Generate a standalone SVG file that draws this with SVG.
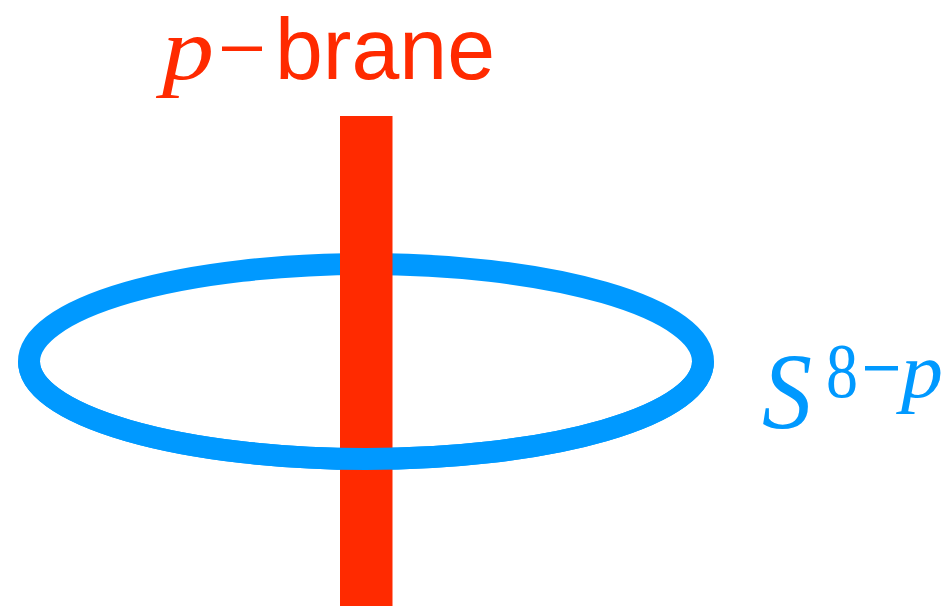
<svg xmlns="http://www.w3.org/2000/svg" width="952" height="606" viewBox="0 0 952 606">
<style>
.ring{fill:none;stroke:#0099ff;stroke-width:22}
.red{fill:#ff2a00}
.blue{fill:#0099ff}
.it{font-family:"Liberation Serif",serif;font-style:italic}
.sans{font-family:"Liberation Sans",Arial,sans-serif}
</style>
<rect width="952" height="606" fill="#ffffff"/>
<g id="ring-back">
<ellipse class="ring" cx="366" cy="361.5" rx="337" ry="97.5"/>
</g>
<g id="brane">
<rect class="red" x="340" y="116" width="52.5" height="490"/>
</g>
<g id="ring-front">
<path class="ring" d="M 29 361.5 A 337 97.5 0 0 0 703 361.5"/>
</g>
<g id="label-brane">
<text class="red it" x="162" y="79" font-size="88" textLength="52" lengthAdjust="spacingAndGlyphs">p</text>
<rect class="red" x="222" y="46.5" width="40" height="4.5"/>
<text class="red sans" x="275" y="79" font-size="88" textLength="220" lengthAdjust="spacingAndGlyphs">brane</text>
</g>
<g id="label-sphere">
<text class="blue it" x="762" y="428" font-size="108" textLength="50" lengthAdjust="spacingAndGlyphs">S</text>
<text class="blue" font-family="Liberation Serif,serif" x="826" y="397" font-size="78" textLength="32" lengthAdjust="spacingAndGlyphs">8</text>
<rect class="blue" x="865" y="366" width="33" height="4.5"/>
<text class="blue it" x="901" y="397" font-size="78" textLength="42" lengthAdjust="spacingAndGlyphs">p</text>
</g>
</svg>
